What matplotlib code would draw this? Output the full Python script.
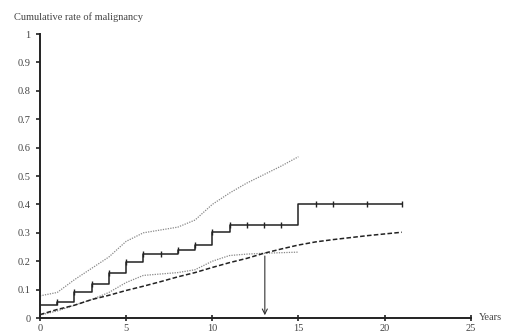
import matplotlib
matplotlib.use("Agg")
import matplotlib.pyplot as plt

# Kaplan-Meier step estimate
km_x = [0, 1, 2, 3, 4, 5, 6, 8, 9, 10, 11, 15, 21]
km_y = [0.045, 0.058, 0.092, 0.121, 0.157, 0.198, 0.224, 0.241, 0.258, 0.302, 0.328, 0.403, 0.403]
# censoring / event marks
mark_x = [1, 2, 3, 4, 5, 6, 7, 8, 9, 10, 11, 12, 13, 14, 16, 17, 19, 21]
mark_y = [0.058, 0.092, 0.121, 0.157, 0.198, 0.224, 0.224, 0.241, 0.258, 0.302, 0.328, 0.328,
          0.328, 0.328, 0.403, 0.403, 0.403, 0.403]

# confidence bounds
ci_x = [0, 1, 2, 3, 4, 5, 6, 7, 8, 9, 10, 11, 12, 13, 14, 15]
ci_upper = [0.078, 0.09, 0.135, 0.175, 0.215, 0.27, 0.30, 0.31, 0.32, 0.345, 0.40, 0.44, 0.475, 0.505, 0.535, 0.568]
ci_lower = [0.01, 0.025, 0.045, 0.065, 0.09, 0.125, 0.15, 0.155, 0.16, 0.17, 0.20, 0.22, 0.225, 0.228, 0.23, 0.232]

# expected curve
exp_x = [0, 1, 2, 3, 4, 5, 6, 7, 8, 9, 10, 11, 12, 13, 14, 15, 16, 17, 18, 19, 20, 21]
exp_y = [0.012, 0.03, 0.045, 0.065, 0.08, 0.097, 0.112, 0.128, 0.145, 0.16, 0.178, 0.195, 0.21,
         0.228, 0.243, 0.257, 0.268, 0.276, 0.283, 0.29, 0.296, 0.302]

arrow_x = 13.05
arrow_y = 0.228

xticks = [0, 5, 10, 15, 20, 25]
yticks = [0, 0.1, 0.2, 0.3, 0.4, 0.5, 0.6, 0.7, 0.8, 0.9, 1]
ytick_labels = ["0", "0.1", "0.2", "0.3", "0.4", "0.5", "0.6", "0.7", "0.8", "0.9", "1"]

plt.rcParams['font.family'] = ['Liberation Serif', 'DejaVu Serif']
txt = '#444444'

fig = plt.figure(figsize=(5.07, 3.35), dpi=100)
ax = fig.add_axes([0.0789, 0.0507, 0.8495, 0.8478])

ax.plot(ci_x, ci_upper, color='#888888', lw=0.9, ls=(0, (1, 1)))
ax.plot(ci_x, ci_lower, color='#888888', lw=0.9, ls=(0, (1, 1)))
ax.plot(exp_x, exp_y, color='#222222', lw=1.1, ls=(0, (3, 1.5)))
ax.step(km_x, km_y, where='post', color='#222222', lw=1.1)
ax.plot(mark_x, mark_y, ls='none', marker='|', ms=4, mew=1.0, color='#222222')

ax.annotate('', xy=(arrow_x, 0.0), xytext=(arrow_x, arrow_y),
            arrowprops=dict(arrowstyle='->', color='#333333', lw=0.8, mutation_scale=9))

ax.set_xlim(0, 25)
ax.set_ylim(0, 1)
ax.set_xticks(xticks)
ax.set_xticklabels([str(v) for v in xticks])
ax.set_yticks(yticks)
ax.set_yticklabels(ytick_labels)

for s in ['top', 'right']:
    ax.spines[s].set_visible(False)
for s in ['left', 'bottom']:
    ax.spines[s].set_linewidth(1.4)
    ax.spines[s].set_color('#222222')

ax.tick_params(axis='y', direction='out', length=3, width=1.2, colors='#222222',
               labelcolor=txt, labelsize=7.5, pad=4)
ax.tick_params(axis='x', direction='inout', length=4, width=1.2, colors='#222222',
               labelcolor=txt, labelsize=7.5, pad=2)

fig.text(14 / 507, 1 - 17 / 335, 'Cumulative rate of malignancy', fontsize=7.5,
         color=txt, va='center', ha='left')
fig.text(479 / 507, 1 - 318 / 335, 'Years', fontsize=7.5, color=txt, va='center', ha='left')

fig.savefig('out.png', dpi=100)
